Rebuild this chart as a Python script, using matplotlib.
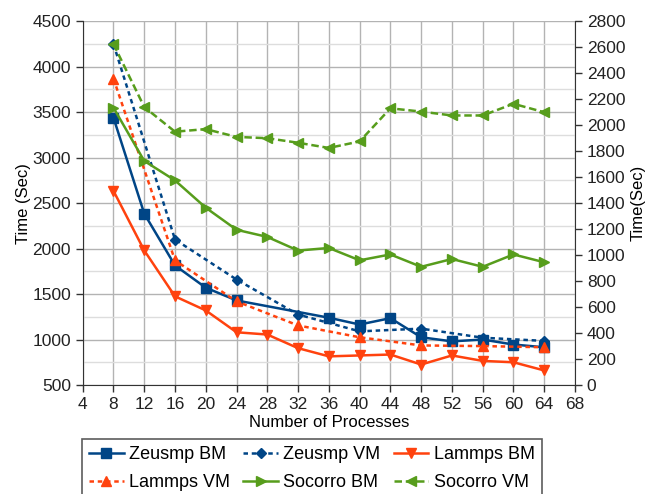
import matplotlib
matplotlib.use("Agg")
import matplotlib.pyplot as plt
from matplotlib.ticker import MultipleLocator

plt.rcParams['font.family'] = ['Liberation Sans', 'DejaVu Sans']

# Process counts per series
procs_all = [8, 12, 16, 20, 24, 28, 32, 36, 40, 44, 48, 52, 56, 60, 64]
procs_zbm = [8, 12, 16, 20, 24, 36, 40, 44, 48, 52, 56, 60, 64]
procs_vm8 = [8, 16, 24, 32, 40, 48, 56, 64]

# Left axis (sec)
zeusmp_bm = [3440, 2385, 1815, 1570, 1430, 1240, 1165, 1235, 1025, 980, 1000, 945, 915]
zeusmp_vm = [4250, 2100, 1660, 1275, 1090, 1120, 1020, 985]
lammps_bm = [2635, 1980, 1475, 1320, 1080, 1055, 905, 815, 825, 835, 725, 825, 765, 750, 660]
lammps_vm = [3870, 1870, 1420, 1155, 1025, 935, 928, 915]

# Right axis (sec)
socorro_bm = [2135, 1725, 1575, 1365, 1195, 1140, 1035, 1055, 960, 1005, 910, 970, 910, 1005, 945]
socorro_vm = [2625, 2140, 1950, 1970, 1910, 1900, 1865, 1825, 1875, 2130, 2105, 2075, 2075, 2165, 2100]

x_ticks = list(range(4, 69, 4))

BLUE = '#004586'
RED = '#ff420e'
GREEN = '#579d1c'

fig = plt.figure(figsize=(6.45, 4.94), dpi=100)
ax = fig.add_axes([82.7 / 645, 1 - 385 / 494, (575 - 82.7) / 645, (385 - 21.3) / 494])
ax2 = ax.twinx()

lw = 1.8
h_zbm, = ax.plot(procs_zbm, zeusmp_bm, color=BLUE, lw=lw, marker='s', ms=7, label='Zeusmp BM')
h_zvm, = ax.plot(procs_vm8, zeusmp_vm, color=BLUE, lw=lw, ls=(0, (1.8, 1.5)), marker='D', ms=5, label='Zeusmp VM')
h_lbm, = ax.plot(procs_all, lammps_bm, color=RED, lw=lw, marker='v', ms=7, label='Lammps BM')
h_lvm, = ax.plot(procs_vm8, lammps_vm, color=RED, lw=lw, ls=(0, (1.8, 1.5)), marker='^', ms=7, label='Lammps VM')
h_sbm, = ax2.plot(procs_all, socorro_bm, color=GREEN, lw=lw, marker='>', ms=7, label='Socorro BM')
h_svm, = ax2.plot(procs_all, socorro_vm, color=GREEN, lw=lw, ls=(0, (3, 1.5)), marker='<', ms=7, label='Socorro VM')

ax.set_xlim(4, 68)
ax.set_ylim(500, 4500)
ax2.set_ylim(0, 2800)
ax.set_xticks(x_ticks)
ax.yaxis.set_major_locator(MultipleLocator(500))
ax.yaxis.set_minor_locator(MultipleLocator(250))
ax2.yaxis.set_major_locator(MultipleLocator(200))

ax.grid(True, which='major', axis='both', color='#b3b3b3', lw=1.0)
ax.grid(True, which='minor', axis='y', color='#dddddd', lw=1.0)
ax.set_axisbelow(True)
ax.tick_params(which='minor', length=0)

for a in (ax, ax2):
    a.spines['top'].set_visible(False)
    a.tick_params(which='major', labelsize=12.5, length=5, width=1, color='#333333', labelcolor='#222222')
ax.spines['left'].set_color('#333333')
ax.spines['bottom'].set_color('#333333')
ax2.spines['right'].set_color('#333333')
ax2.spines['left'].set_visible(False)
ax2.spines['bottom'].set_visible(False)
ax.spines['right'].set_visible(False)

ax.set_xlabel('Number of Processes', fontsize=12, labelpad=2)
ax.set_ylabel('Time (Sec)', fontsize=12, labelpad=1)
ax2.set_ylabel('Time(Sec)', fontsize=12, labelpad=4)

handles = [h_zbm, h_lvm, h_zvm, h_sbm, h_lbm, h_svm]
leg = fig.legend(handles=handles, labels=[h.get_label() for h in handles],
                 loc='upper left', bbox_to_anchor=(82 / 645, 1 - 439 / 494),
                 ncol=3, fontsize=13, frameon=True, fancybox=False,
                 handlelength=1.9, handletextpad=0.3, columnspacing=0.75,
                 labelspacing=0.6, borderpad=0.4, borderaxespad=0)
leg.get_frame().set_edgecolor('#333333')
leg.get_frame().set_linewidth(1.2)

fig.savefig('out.png', dpi=100)
